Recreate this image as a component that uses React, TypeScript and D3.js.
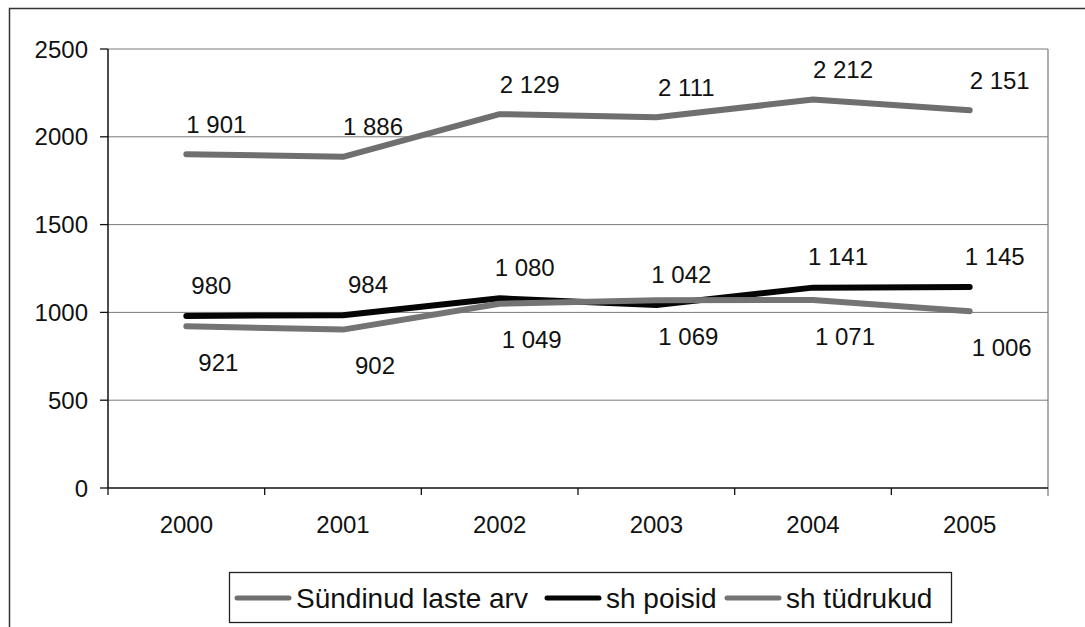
import React from 'react';
import * as d3 from 'd3';

// Sündinud laste arv aastate kaupa
const YEARS = ['2000', '2001', '2002', '2003', '2004', '2005'];
const TOTAL = [1901, 1886, 2129, 2111, 2212, 2151];
const BOYS = [980, 984, 1080, 1042, 1141, 1145];
const GIRLS = [921, 902, 1049, 1069, 1071, 1006];
const Y_TICKS = [0, 500, 1000, 1500, 2000, 2500];

const SERIES = [
  { name: 'Sündinud laste arv', values: TOTAL, color: '#6f6f6f', dx: 30, dy: -30 },
  { name: 'sh poisid', values: BOYS, color: '#050505', dx: 25, dy: -31 },
  { name: 'sh tüdrukud', values: GIRLS, color: '#747474', dx: 32, dy: 36 },
];

const W = 1085;
const H = 627;
const FONT = '"Liberation Sans", Arial, sans-serif';

const fmt = d3.formatLocale({ decimal: ',', thousands: ' ', grouping: [3], currency: ['', ''] }).format(',d');

const App: React.FC = () => {
  const x = d3.scaleBand<string>().domain(YEARS).range([108, 1048]);
  const y = d3.scaleLinear().domain([0, 2500]).range([488, 49]);
  const cx = (i: number) => (x(YEARS[i]) as number) + x.bandwidth() / 2;

  const line = d3.line<number>()
    .x((_, i) => cx(i))
    .y(d => y(d));

  const legendX = [237, 547, 727];

  return (
    <svg width={W} height={H} style={{ position: 'absolute', left: 0, top: 0, background: '#fff' }} fontFamily={FONT}>
      <rect x={0} y={0} width={W} height={H} fill="#fff" />
      {/* outer frame */}
      <path d={`M9.5,${H} V8.5 H${W}`} fill="none" stroke="#333" strokeWidth={1.5} />

      {/* gridlines */}
      {Y_TICKS.filter(t => t > 0).map(t => (
        <line key={t} x1={108} x2={1048} y1={y(t)} y2={y(t)} stroke="#7a7a7a" strokeWidth={1} />
      ))}
      {/* plot border right */}
      <line x1={1048} x2={1048} y1={y(2500)} y2={y(0) + 8} stroke="#7a7a7a" strokeWidth={1.2} />

      {/* y axis */}
      <line x1={108} x2={108} y1={y(2500)} y2={y(0)} stroke="#111" strokeWidth={1.5} />
      {Y_TICKS.map(t => (
        <g key={t}>
          <line x1={100} x2={108} y1={y(t)} y2={y(t)} stroke="#111" strokeWidth={1.3} />
          <text x={88} y={y(t)} dy="0.36em" textAnchor="end" fontSize={24} fill="#111">{t}</text>
        </g>
      ))}

      {/* x axis */}
      <line x1={108} x2={1048} y1={y(0)} y2={y(0)} stroke="#111" strokeWidth={1.5} />
      {YEARS.map((yr, i) => (
        <g key={yr}>
          <line x1={x(yr) as number} x2={x(yr) as number} y1={y(0)} y2={y(0) + 7} stroke="#111" strokeWidth={1.3} />
          <text x={cx(i)} y={524} dy="0.36em" textAnchor="middle" fontSize={24} fill="#111">{yr}</text>
        </g>
      ))}

      {/* lines */}
      {SERIES.map(s => (
        <path key={s.name} d={line(s.values) || ''} fill="none" stroke={s.color} strokeWidth={6}
          strokeLinecap="round" strokeLinejoin="round" />
      ))}

      {/* data labels */}
      {SERIES.map(s => s.values.map((v, i) => (
        <text key={s.name + i} x={cx(i) + s.dx} y={y(v) + s.dy} dy="0.36em" textAnchor="middle"
          fontSize={24} fill="#111">{fmt(v)}</text>
      )))}

      {/* legend */}
      <rect x={229.5} y={572.5} width={722} height={50} fill="#fff" stroke="#222" strokeWidth={1.3} />
      {SERIES.map((s, i) => (
        <g key={s.name} transform={`translate(${legendX[i]},598)`}>
          <line x1={0} x2={52} y1={0} y2={0} stroke={s.color} strokeWidth={5} strokeLinecap="round" />
          <text x={59} y={0} dy="0.36em" fontSize={28} fill="#111">{s.name}</text>
        </g>
      ))}
    </svg>
  );
};

export default App;
